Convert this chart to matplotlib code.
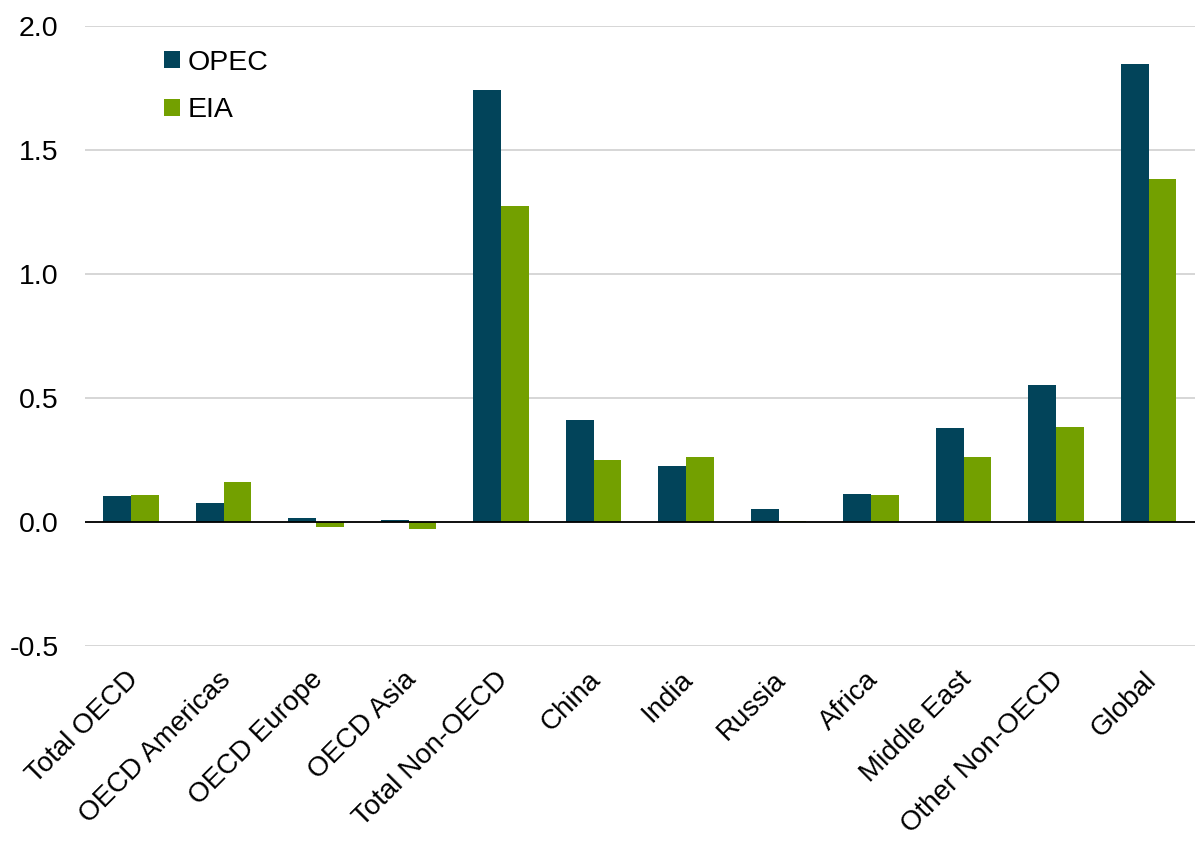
import matplotlib
matplotlib.use('Agg')
import matplotlib.pyplot as plt
import matplotlib.transforms as mtrans
import numpy as np

plt.rcParams['font.family'] = ['Liberation Sans', 'DejaVu Sans']

categories = ['Total OECD', 'OECD Americas', 'OECD Europe', 'OECD Asia', 'Total Non-OECD',
              'China', 'India', 'Russia', 'Africa', 'Middle East', 'Other Non-OECD', 'Global']
opec = [0.105, 0.077, 0.015, 0.009, 1.742, 0.411, 0.227, 0.052, 0.113, 0.380, 0.552, 1.847]
eia = [0.108, 0.160, -0.021, -0.030, 1.274, 0.250, 0.262, 0.005, 0.108, 0.261, 0.382, 1.383]

fig = plt.figure(figsize=(11.95, 8.41), dpi=100)
ax = fig.add_axes([0.0711, 0.2319, 0.9289, 0.737])

x = np.arange(len(categories))
w = 0.3
ax.bar(x - w/2, opec, w, color='#02445A', label='OPEC', zorder=3)
ax.bar(x + w/2, eia, w, color='#73A000', label='EIA', zorder=3)

ax.set_xlim(-0.5, len(categories) - 0.5)
ax.set_ylim(-0.5, 2.0)
ax.set_yticks([-0.5, 0.0, 0.5, 1.0, 1.5, 2.0])
ax.set_yticklabels(['-0.5', '0.0', '0.5', '1.0', '1.5', '2.0'], fontsize=20.5)
ax.yaxis.grid(True, color='#D0D0D0', linewidth=1.2, zorder=0)
ax.axhline(0, color='black', linewidth=1.3, zorder=4)
ax.set_xticks(x)
ax.set_xticklabels(categories, rotation=45, ha='right', va='top', rotation_mode='anchor', fontsize=20)
ax.tick_params(axis='y', length=0, pad=19)
ax.tick_params(axis='x', length=0, pad=15)
# nudge category labels a bit to the left
shift = mtrans.ScaledTranslation(-6/100, 0, fig.dpi_scale_trans)
for lbl in ax.get_xticklabels():
    lbl.set_transform(lbl.get_transform() + shift)
for s in ax.spines.values():
    s.set_visible(False)

ax.legend(loc='upper left', bbox_to_anchor=(0.048, 1.003), frameon=False, fontsize=20.5,
          handlelength=0.55, handleheight=0.55, handletextpad=0.3, labelspacing=0.75)

fig.savefig('out.png', dpi=100)
